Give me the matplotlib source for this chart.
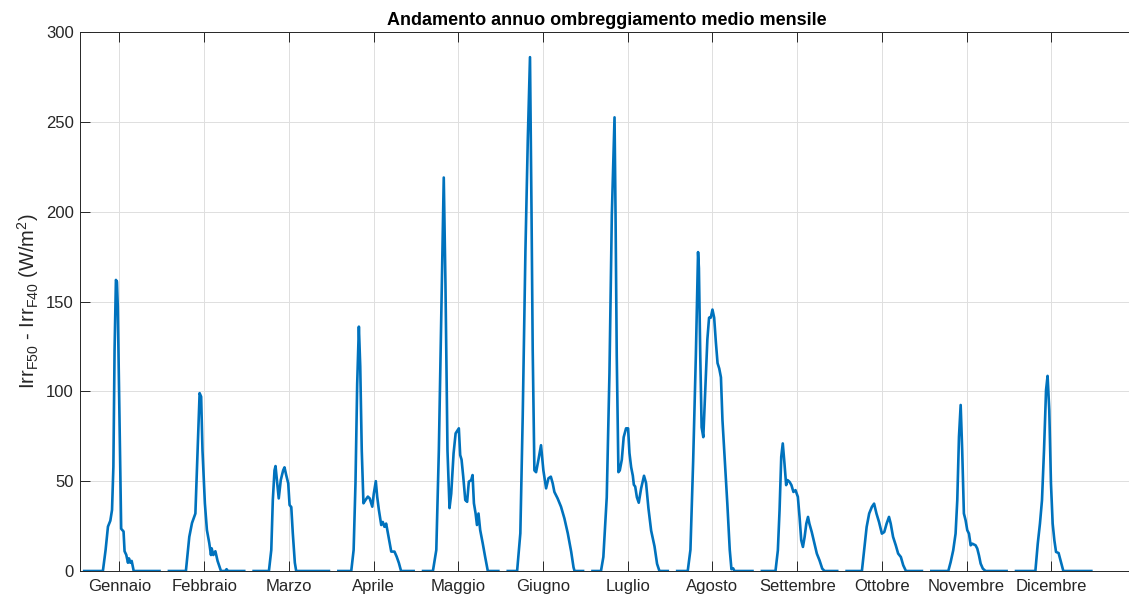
import matplotlib.pyplot as plt
import numpy as np

# =====================================
# DATA (mean daily profile per month, hour of day -> W/m2)
# =====================================

MONTHS = ["Gennaio", "Febbraio", "Marzo", "Aprile", "Maggio", "Giugno",
          "Luglio", "Agosto", "Settembre", "Ottobre", "Novembre", "Dicembre"]

gen_h = [6.9, 7.7, 8.4, 9.1, 9.6, 10.0, 10.35, 10.75, 11.05, 11.3, 11.8, 12.3,
         13.0, 13.3, 13.8, 14.3, 14.6, 15.0, 15.4, 16.0]
gen_v = [0, 11.7, 24.7, 28, 34, 58, 123, 162, 161, 147, 86, 23.5,
         22, 11, 9, 4.6, 7, 4.6, 5.6, 0]

feb_h = [6.4, 7.4, 8.2, 9.2, 9.85, 10.45, 10.9, 11.3, 12.0, 12.6, 13.3, 13.8,
         14.0, 14.5, 15.1, 15.75, 16.75, 18.0, 18.4, 18.8]
feb_v = [0, 19, 26.7, 32, 67, 99, 97, 67, 37.7, 22.8, 15.5, 8.9,
         12.6, 8.9, 11, 5.6, 0, 0, 1, 0]

mar_h = [5.9, 6.6, 7.05, 7.55, 7.85, 8.35, 8.8, 9.4, 10.1, 10.5, 11.0, 11.6,
         12.0, 12.5, 12.95, 13.55, 13.95]
mar_v = [0, 11.7, 39.5, 56, 58.4, 48.8, 40.4, 50.6, 56, 57.7, 53.4, 48.8,
         36.7, 35.6, 21, 4.6, 0]

apr_h = [5.2, 5.9, 6.45, 6.95, 7.45, 7.85, 8.3, 8.8, 9.4, 10.1, 10.65, 11.4,
         11.85, 12.45, 12.85, 13.35, 14.05, 14.5, 15.0, 15.5, 16.2, 17.0,
         17.95, 18.6, 19.25, 19.9]
apr_v = [0, 11.7, 49, 104, 136, 114, 67, 37.7, 39.5, 41.4, 40.4, 35.8,
         43, 50, 41.4, 34, 25.6, 27.3, 24.6, 26.4, 19, 10.8,
         10.8, 8, 4.5, 0]

mag_h = [4.3, 5.3, 6.05, 6.75, 7.5, 8.0, 8.6, 9.2, 9.7, 10.4, 11.0, 11.65,
         11.95, 12.35, 12.75, 13.25, 13.85, 14.4, 14.9, 15.6, 16.0, 16.4,
         16.9, 17.3, 17.75, 18.25, 19.0, 19.7, 20.5]
mag_v = [0, 11.7, 67, 141.5, 219, 160, 67, 35, 43, 65.5, 76.6, 78.5,
         79.4, 64.5, 62, 52.5, 39.5, 38.5, 49.7, 50.6, 53.4, 37.7,
         32, 25.6, 32, 22.8, 15.4, 8, 0]

giu_h = [4.15, 5.1, 5.8, 6.6, 7.3, 7.95, 8.4, 8.75, 9.25, 9.75, 10.45, 11.2,
         11.9, 12.7, 13.4, 14.1, 14.65, 15.15, 16.1, 17.1, 18.1, 19.1,
         20.1, 20.8, 21.1]
giu_v = [0, 21, 86, 178, 240, 286, 200, 123, 56, 55, 62, 70,
         56, 46, 51.6, 52.5, 48.8, 44, 40.4, 35.8, 29.3, 21,
         10.8, 2, 0]

lug_h = [3.9, 4.6, 5.6, 6.4, 7.1, 7.9, 8.2, 8.55, 9.05, 9.45, 10.05, 10.6,
         11.3, 11.9, 12.3, 12.8, 13.3, 13.6, 14.0, 14.5, 15.05, 15.75,
         16.6, 17.2, 17.9, 18.7, 19.7, 20.45, 21.15]
lug_v = [0, 7.8, 41, 110, 198, 252.5, 198, 120, 55, 56, 62, 74.5,
         79.4, 79.4, 65.7, 57.8, 53, 48, 47, 41, 38, 46,
         53, 49, 35, 22.5, 13.7, 4, 0]

ago_h = [4.5, 5.3, 6.1, 6.9, 7.55, 7.8, 8.2, 8.6, 9.1, 9.65, 10.3, 10.8,
         11.3, 11.8, 12.3, 12.8, 13.3, 13.8, 14.3, 14.75, 15.45, 16.2,
         16.9, 17.4, 17.9, 18.3]
ago_v = [0, 11.8, 61, 120, 177.5, 168.6, 120, 80, 74.5, 100, 129, 141,
         141, 145.5, 141, 127.5, 115.7, 112.7, 107.8, 84, 61, 37,
         11.8, 1, 1.5, 0]

set_h = [5.4, 6.1, 6.6, 7.1, 7.55, 8.05, 8.55, 8.95, 9.55, 10.1, 10.7, 11.3,
         12.0, 12.5, 13.0, 13.5, 14.0, 14.5, 15.0, 15.4, 16.1, 16.9,
         17.6, 18.4, 19.2, 19.9]
set_v = [0, 11.5, 33.8, 63.6, 71, 59.9, 47.8, 50.6, 49.6, 47.8, 44, 45,
         41.3, 30.1, 17.1, 13.4, 19, 26.4, 30.1, 26.4, 21.7, 15.2,
         9.7, 5.9, 1.3, 0]

ott_h = [5.9, 6.55, 7.3, 8.05, 8.85, 9.5, 10.2, 10.95, 11.8, 12.5, 13.2, 13.9,
         14.4, 15.1, 15.9, 16.6, 17.4, 18.1, 18.9]
ott_v = [0, 11.5, 24.5, 32, 35.7, 37.5, 32, 27.3, 20.8, 21.7, 26.4, 30.1,
         26.4, 19, 14.3, 9.7, 7.8, 3.2, 0]

nov_h = [6.4, 7.1, 7.85, 8.55, 9.05, 9.55, 10.05, 10.5, 11.0, 11.5, 12.0, 12.5,
         13.0, 13.5, 14.45, 14.95, 15.45, 15.95, 16.6, 17.4]
nov_v = [0, 5, 11.5, 20.8, 39.4, 74.7, 92.4, 67.3, 32, 28.3, 22.7, 20.8,
         14.3, 15.2, 14.3, 12.5, 8.7, 4.1, 1.3, 0]

dic_h = [7.1, 7.8, 8.45, 9.05, 9.65, 10.25, 10.7, 11.2, 11.7, 12.2, 12.7, 13.2,
         13.95, 14.65, 15.35]
dic_v = [0, 15.2, 26.4, 39.4, 67.3, 100.7, 108.6, 89.6, 48.7, 26.4, 17.1, 10.6,
         10, 5, 0]

HOURS = [gen_h, feb_h, mar_h, apr_h, mag_h, giu_h,
         lug_h, ago_h, set_h, ott_h, nov_h, dic_h]
VALUES = [gen_v, feb_v, mar_v, apr_v, mag_v, giu_v,
          lug_v, ago_v, set_v, ott_v, nov_v, dic_v]

# =====================================
# SETTINGS
# =====================================

SLOT = 25          # 24 hours + 1 empty sample between months
TICK_HOUR = 11.8

plt.rcParams['font.family'] = ['Liberation Sans', 'DejaVu Sans']
plt.rcParams['mathtext.fontset'] = 'custom'
plt.rcParams['mathtext.rm'] = 'Liberation Sans'
plt.rcParams['mathtext.it'] = 'Liberation Sans:italic'
plt.rcParams['mathtext.bf'] = 'Liberation Sans:bold'

# =====================================
# BUILD SERIES (NaN between months)
# =====================================

x_all, y_all = [], []
for m, (hh, vv) in enumerate(zip(HOURS, VALUES)):
    xs = [1] + hh + [24]
    ys = [0] + vv + [0]
    x_all += [SLOT * m + t for t in xs] + [np.nan]
    y_all += ys + [np.nan]

# =====================================
# PLOT
# =====================================

fig = plt.figure(figsize=(11.29, 5.98), dpi=100)
ax = fig.add_axes([79.5 / 1129, 27 / 598, (1135 - 79.5) / 1129, 539 / 598])

ax.plot(x_all, y_all, color='#0072BD', lw=1.9,
        solid_capstyle='butt', solid_joinstyle='round')

ax.set_xlim(0, 311.5)
ax.set_ylim(0, 300)
ax.set_xticks([SLOT * m + TICK_HOUR for m in range(len(MONTHS))])
ax.set_xticklabels(MONTHS)
ax.set_yticks(np.arange(0, 301, 50))

ax.grid(True, color='#dedede', lw=0.7)
ax.set_axisbelow(True)

ax.tick_params(direction='in', top=True, right=False, length=7, width=0.7,
               colors='#262626', labelsize=12)
ax.tick_params(axis='x', pad=6)
ax.tick_params(axis='y', pad=4)
for side in ['left', 'bottom', 'top']:
    ax.spines[side].set_color('#262626')
    ax.spines[side].set_linewidth(0.7)
ax.spines['right'].set_visible(False)

ax.set_title('Andamento annuo ombreggiamento medio mensile',
             fontsize=13, fontweight='bold', pad=5)
ax.set_ylabel(r'Irr$_{\rm F50}$ - Irr$_{\rm F40}$ (W/m$^2$)',
              fontsize=14.5, color='#262626', labelpad=4)

fig.savefig("out.png", dpi=100)
